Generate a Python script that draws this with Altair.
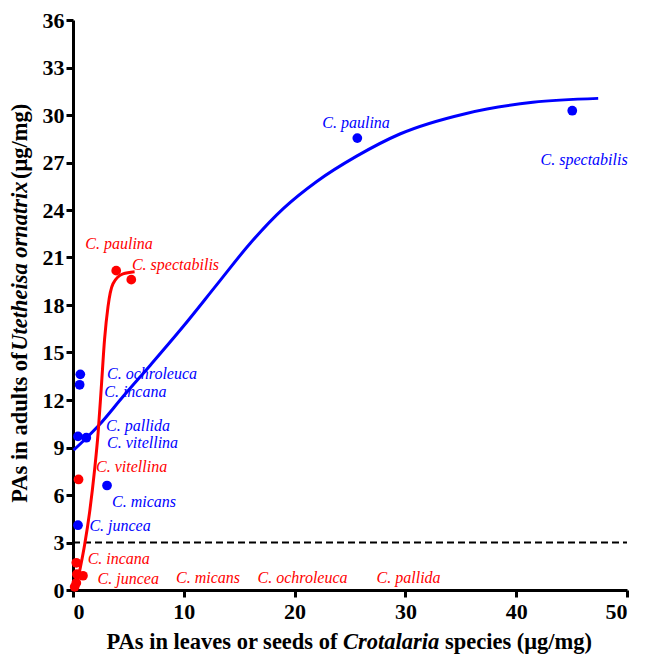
import altair as alt
import pandas as pd

# ---- data ----
blue_species = ["C. ochroleuca", "C. incana", "C. pallida", "C. vitellina",
                "C. micans", "C. juncea", "C. paulina", "C. spectabilis"]
blue_x = [0.66, 0.6, 0.45, 1.2, 3.07, 0.45, 25.66, 45.06]
blue_y = [13.62, 12.96, 9.7, 9.62, 6.6, 4.09, 28.54, 30.27]

red_species = ["C. paulina", "C. spectabilis", "C. vitellina", "C. incana",
               "C. juncea", "C. micans", "C. ochroleuca", "C. pallida"]
red_x = [3.9, 5.26, 0.5, 0.3, 0.9, 0.35, 0.3, 0.15]
red_y = [20.17, 19.6, 6.98, 1.72, 0.9, 1.0, 0.45, 0.2]

# fitted curves
blue_curve_x = [0.05, 1.14, 2.4, 4.5, 6.98, 9.98, 13.0, 16.0, 19.0, 22.0,
                25.6, 29.5, 35.5, 41.5, 47.4]
blue_curve_y = [8.83, 9.55, 10.45, 12.2, 14.2, 16.67, 19.3, 21.9, 24.1, 25.8,
                27.4, 28.8, 30.1, 30.8, 31.05]
red_curve_x = [0.25, 0.6, 1.05, 1.5, 1.95, 2.26, 2.55, 2.85, 3.16, 3.61, 4.51, 5.56]
red_curve_y = [0.0, 1.2, 2.86, 4.92, 7.6, 9.86, 12.75, 15.84, 17.9, 19.34, 19.96, 20.1]

# label anchors (data units)
blue_label_x = [3.07, 2.82, 2.98, 3.07, 3.52, 1.48, 22.5, 42.2]
blue_label_y = [13.62, 12.5, 10.36, 9.31, 5.58, 4.05, 29.47, 27.18]
red_label_x = [1.11, 5.32, 2.08, 1.32, 2.22, 9.3, 16.65, 27.4]
red_label_y = [21.86, 20.55, 7.74, 1.95, 0.67, 0.75, 0.77, 0.77]

threshold = 3
x_ticks = [0, 10, 20, 30, 40, 50]
y_ticks = list(range(0, 37, 3))

BLUE = "#0000ff"
RED = "#ff0000"
FONT = "Liberation Serif"

W, H = 554, 570

pts_blue = pd.DataFrame({"x": blue_x, "y": blue_y})
pts_red = pd.DataFrame({"x": red_x, "y": red_y})
cur_blue = pd.DataFrame({"x": blue_curve_x, "y": blue_curve_y})
cur_red = pd.DataFrame({"x": red_curve_x, "y": red_curve_y})
lab_blue = pd.DataFrame({"x": blue_label_x, "y": blue_label_y, "t": blue_species})
lab_red = pd.DataFrame({"x": red_label_x, "y": red_label_y, "t": red_species})
thr = pd.DataFrame({"x": [0], "x2": [50], "y": [threshold]})

xs = alt.Scale(domain=[0, 50], nice=False)
ys = alt.Scale(domain=[0, 36], nice=False)

axis_style = dict(grid=False, labelFont=FONT, labelFontWeight="bold", labelFontSize=22,
                  labelColor="black", domainColor="black", domainWidth=3,
                  tickColor="black", tickWidth=3, tickSize=7)
X = alt.X("x:Q", scale=xs, axis=alt.Axis(values=x_ticks, title=None, labelPadding=4, **axis_style))
Y = alt.Y("y:Q", scale=ys, axis=alt.Axis(values=y_ticks, title=None, labelPadding=2, **axis_style))

base_axes = alt.Chart(thr).mark_rule(strokeDash=[7, 4], strokeWidth=2.2, color="black").encode(
    x=X, x2="x2:Q", y=Y
)

line_blue = alt.Chart(cur_blue).mark_line(color=BLUE, strokeWidth=3, interpolate="monotone").encode(
    x="x:Q", y="y:Q")
line_red = alt.Chart(cur_red).mark_line(color=RED, strokeWidth=3, interpolate="monotone").encode(
    x="x:Q", y="y:Q")

dot_blue = alt.Chart(pts_blue).mark_circle(color=BLUE, size=95, opacity=1).encode(x="x:Q", y="y:Q")
dot_red = alt.Chart(pts_red).mark_circle(color=RED, size=95, opacity=1).encode(x="x:Q", y="y:Q")

txt_blue = alt.Chart(lab_blue).mark_text(font=FONT, fontStyle="italic", fontSize=16,
                                         color=BLUE, align="left", baseline="middle").encode(
    x="x:Q", y="y:Q", text="t:N")
txt_red = alt.Chart(lab_red).mark_text(font=FONT, fontStyle="italic", fontSize=16,
                                       color=RED, align="left", baseline="middle").encode(
    x="x:Q", y="y:Q", text="t:N")

# axis titles with italic parts
one = pd.DataFrame({"k": [0]})
TS = 22.5
def ttl(text, px, py, align, italic=False, angle=0):
    kw = dict(font=FONT, fontSize=TS, fontWeight="bold", color="black",
              align=align, baseline="middle", text=text)
    if italic:
        kw["fontStyle"] = "italic"
    if angle:
        kw["angle"] = angle
    return alt.Chart(one).mark_text(**kw).encode(x=alt.value(px), y=alt.value(py))

xt1 = ttl("PAs in leaves or seeds of", 264.5, 622, "right")
xt2 = ttl("Crotalaria", 270, 622, "left", italic=True)
xt3 = ttl("species (μg/mg)", 372, 622, "left")

yt1 = ttl("PAs in adults of", -53, 482.7, "left", angle=270)
yt2 = ttl("Utetheisa ornatrix", -53, 330.8, "left", italic=True, angle=270)
yt3 = ttl("(μg/mg)", -53, 159, "left", angle=270)

chart = alt.layer(
    base_axes, line_blue, line_red, dot_blue, dot_red, txt_blue, txt_red,
    xt1, xt2, xt3, yt1, yt2, yt3
).properties(
    width=W, height=H,
    autosize=alt.AutoSizeParams(type="none"),
    padding={"left": 65, "top": 12, "right": 30, "bottom": 70},
).configure_view(stroke=None)

chart.save("out.html", embed_options={"renderer": "svg", "actions": False})
